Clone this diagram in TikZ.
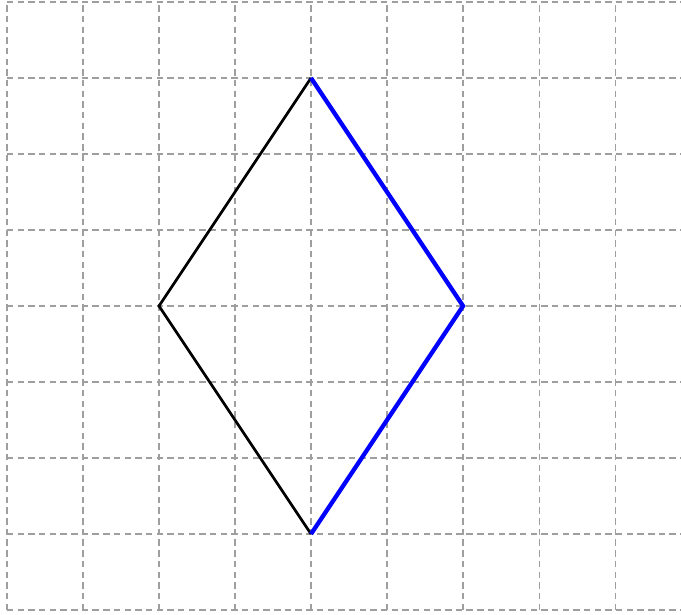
\documentclass[tikz,border=0pt]{standalone}
\begin{document}
\begin{tikzpicture}[x=1cm,y=1cm,
  gridline/.style={draw=gray!75, line width=0.4pt, dash pattern=on 2.4pt off 1.6pt},
  leftside/.style={draw=black, line width=1pt, line join=miter},
  rightside/.style={draw=blue, line width=1.6pt, line join=miter}]
\useasboundingbox (-0.092,-0.053) rectangle (8.868,8.026);
\draw[gridline] (0,0) grid (8.9,8);
\coordinate (T) at (4,7);
\coordinate (L) at (2,4);
\coordinate (B) at (4,1);
\coordinate (R) at (6,4);
\draw[leftside] (T) -- (L) -- (B);
\draw[rightside] (T) -- (R) -- (B);
\end{tikzpicture}
\end{document}
